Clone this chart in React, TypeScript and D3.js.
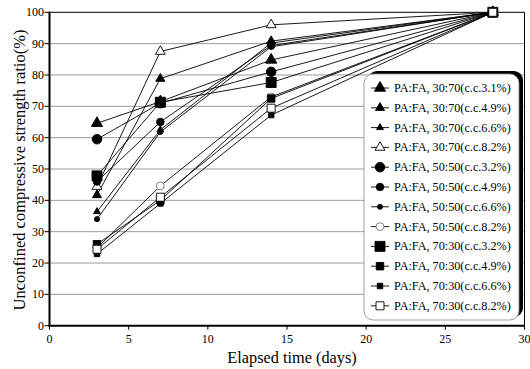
import React from "react";
import * as d3 from "d3";

const days = [3, 7, 14, 28];
const seriesNames = [
  "PA:FA, 30:70(c.c.3.1%)",
  "PA:FA, 30:70(c.c.4.9%)",
  "PA:FA, 30:70(c.c.6.6%)",
  "PA:FA, 30:70(c.c.8.2%)",
  "PA:FA, 50:50(c.c.3.2%)",
  "PA:FA, 50:50(c.c.4.9%)",
  "PA:FA, 50:50(c.c.6.6%)",
  "PA:FA, 50:50(c.c.8.2%)",
  "PA:FA, 70:30(c.c.3.2%)",
  "PA:FA, 70:30(c.c.4.9%)",
  "PA:FA, 70:30(c.c.6.6%)",
  "PA:FA, 70:30(c.c.8.2%)",
];
const tri31 = [64.6, 71.5, 84.8, 100];
const tri49 = [41.7, 78.8, 90.8, 100];
const tri66 = [36.4, 62.5, 90.2, 100];
const tri82 = [44.4, 87.5, 96, 100];
const cir32 = [59.5, 71, 81, 100];
const cir49 = [46, 65, 89.4, 100];
const cir66 = [34, 61.8, 89, 100];
const cir82 = [24.8, 44.6, 73, 100];
const sq32 = [47.8, 71.3, 77.6, 100];
const sq49 = [26, 40, 72.5, 100];
const sq66 = [22.9, 39, 67.2, 100];
const sq82 = [24.4, 41, 69.4, 100];
const seriesValues = [tri31, tri49, tri66, tri82, cir32, cir49, cir66, cir82, sq32, sq49, sq66, sq82];
const xTicks = [0, 5, 10, 15, 20, 25, 30];
const yTicks = [0, 10, 20, 30, 40, 50, 60, 70, 80, 90, 100];

type Mk = { type: d3.SymbolType; size: number; open: boolean; stroke: string };
const markers: Mk[] = [
  { type: d3.symbolTriangle, size: 55, open: false, stroke: "#000" },
  { type: d3.symbolTriangle, size: 36, open: false, stroke: "#000" },
  { type: d3.symbolTriangle, size: 21, open: false, stroke: "#000" },
  { type: d3.symbolTriangle, size: 42, open: true, stroke: "#000" },
  { type: d3.symbolCircle, size: 72, open: false, stroke: "#000" },
  { type: d3.symbolCircle, size: 45, open: false, stroke: "#000" },
  { type: d3.symbolCircle, size: 20, open: false, stroke: "#000" },
  { type: d3.symbolCircle, size: 48, open: true, stroke: "#777" },
  { type: d3.symbolSquare, size: 100, open: false, stroke: "#000" },
  { type: d3.symbolSquare, size: 56, open: false, stroke: "#000" },
  { type: d3.symbolSquare, size: 30, open: false, stroke: "#000" },
  { type: d3.symbolSquare, size: 64, open: true, stroke: "#000" },
];

const W = 530;
const H = 369;
const x = d3.scaleLinear().domain([0, 30]).range([49.5, 524.5]);
const y = d3.scaleLinear().domain([0, 100]).range([325.7, 12.3]);

const FONT = "'Liberation Serif', 'Times New Roman', serif";

function Marker({ m, cx, cy }: { m: Mk; cx: number; cy: number }) {
  const p = d3.symbol().type(m.type).size(m.size)() || "";
  return (
    <path
      d={p}
      transform={`translate(${cx},${cy})`}
      fill={m.open ? "#fff" : "#000"}
      stroke={m.stroke}
      strokeWidth={0.9}
    />
  );
}

export default function App() {
  const line = d3
    .line<number>()
    .x((_, i) => x(days[i]))
    .y((v) => y(v));
  const legX = 364;
  const legY = 74;
  const legW = 155;
  const legH = 246;
  const rowY0 = 88;
  const rowStep = 19.8;
  return (
    <div style={{ position: "fixed", left: 0, top: 0 }}>
      <svg width={W} height={H} style={{ display: "block", background: "#fff" }} fontFamily={FONT}>
        <rect x={0} y={0} width={W} height={H} fill="#fff" />
        {/* grid */}
        {yTicks
          .filter((t) => t > 0 && t < 100)
          .map((t) => (
            <line key={t} x1={x(0)} x2={x(30)} y1={y(t)} y2={y(t)} stroke="#9a9a9a" strokeWidth={1} />
          ))}
        {/* frame */}
        <line x1={x(0)} x2={x(30)} y1={y(100)} y2={y(100)} stroke="#000" strokeWidth={1} />
        <line x1={x(30)} x2={x(30)} y1={y(100)} y2={y(0)} stroke="#000" strokeWidth={1} />
        {/* y ticks */}
        {yTicks.map((t) => (
          <g key={t}>
            <line x1={x(0) - 5} x2={x(0)} y1={y(t)} y2={y(t)} stroke="#000" strokeWidth={1} />
            <text x={44} y={y(t) + 4} fontSize={12} textAnchor="end" fill="#000">
              {t}
            </text>
          </g>
        ))}
        {/* x ticks */}
        {xTicks.map((t) => (
          <g key={t}>
            <line x1={x(t)} x2={x(t)} y1={y(0)} y2={y(0) + 4} stroke="#000" strokeWidth={1} />
            <text x={x(t)} y={343} fontSize={12} textAnchor="middle" fill="#000">
              {t}
            </text>
          </g>
        ))}
        {/* axes */}
        <line x1={x(0)} x2={x(0)} y1={y(100) - 0.5} y2={y(0) + 1} stroke="#000" strokeWidth={2} />
        <line x1={x(0) - 1} x2={x(30)} y1={y(0)} y2={y(0)} stroke="#000" strokeWidth={2} />
        {/* series lines */}
        {seriesValues.map((vals, i) => (
          <path key={"l" + i} d={line(vals) || ""} fill="none" stroke="#000" strokeWidth={0.9} />
        ))}
        {/* series markers */}
        {seriesValues.map((vals, i) => (
          <g key={"m" + i}>
            {vals.map((v, j) => (
              <Marker key={j} m={markers[i]} cx={x(days[j])} cy={y(v)} />
            ))}
          </g>
        ))}
        {/* legend */}
        <rect x={legX + 4} y={legY - 3} width={legW} height={legH} rx={9} fill="#000" />
        <rect x={legX} y={legY} width={legW} height={legH} rx={9} fill="#fff" stroke="#888" strokeWidth={0.8} />
        {seriesNames.map((name, i) => {
          const ry = rowY0 + i * rowStep;
          return (
            <g key={"lg" + i}>
              <line x1={371} x2={389} y1={ry} y2={ry} stroke="#000" strokeWidth={0.9} />
              <Marker m={markers[i]} cx={380} cy={ry} />
              <text x={394} y={ry + 4} fontSize={12.2} fill="#000">
                {name}
              </text>
            </g>
          );
        })}
        {/* axis titles */}
        <text x={292} y={363} fontSize={16.3} textAnchor="middle" fill="#000">
          Elapsed time (days)
        </text>
        <text
          transform={`translate(25,170) rotate(-90)`}
          fontSize={16.5}
          textAnchor="middle"
          fill="#000"
        >
          Unconfined compressive strength ratio(%)
        </text>
      </svg>
    </div>
  );
}
